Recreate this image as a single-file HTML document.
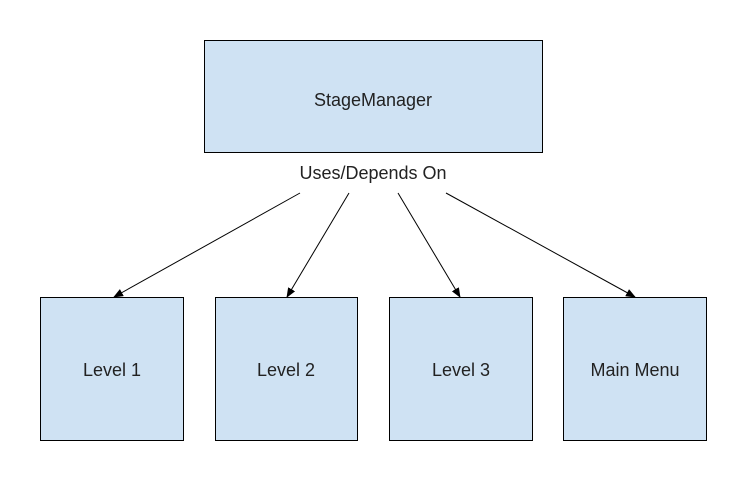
<!DOCTYPE html>
<html><head><style>body{margin:0;background:#fff}svg{display:block}</style></head><body>
<svg width="747" height="481" xmlns="http://www.w3.org/2000/svg" font-family="Liberation Sans, sans-serif" font-size="18" fill="#000">
<defs><marker id="a" markerWidth="10" markerHeight="8" refX="9" refY="4" orient="auto" markerUnits="userSpaceOnUse"><path d="M0,0 L10,4 L0,8 z" fill="#000"/></marker></defs>
<g fill="#cfe2f3" stroke="#000" stroke-width="1">
<rect x="204.5" y="40.5" width="338" height="112"/>
<rect x="40.5" y="297.5" width="143" height="143"/>
<rect x="215.5" y="297.5" width="142" height="143"/>
<rect x="389.5" y="297.5" width="143" height="143"/>
<rect x="563.5" y="297.5" width="143" height="143"/>
</g>
<g stroke="#000" stroke-width="1" marker-end="url(#a)">
<line x1="300" y1="193" x2="114" y2="297"/>
<line x1="349" y1="193" x2="287" y2="297"/>
<line x1="398" y1="193" x2="460" y2="297"/>
<line x1="446" y1="193" x2="635" y2="297"/>
</g>
<g text-anchor="middle" fill="#222">
<text x="373" y="106">StageManager</text>
<text x="373" y="179">Uses/Depends On</text>
<text x="112" y="376">Level 1</text>
<text x="286" y="376">Level 2</text>
<text x="461" y="376">Level 3</text>
<text x="635" y="376">Main Menu</text>
</g>
</svg>
</body></html>
